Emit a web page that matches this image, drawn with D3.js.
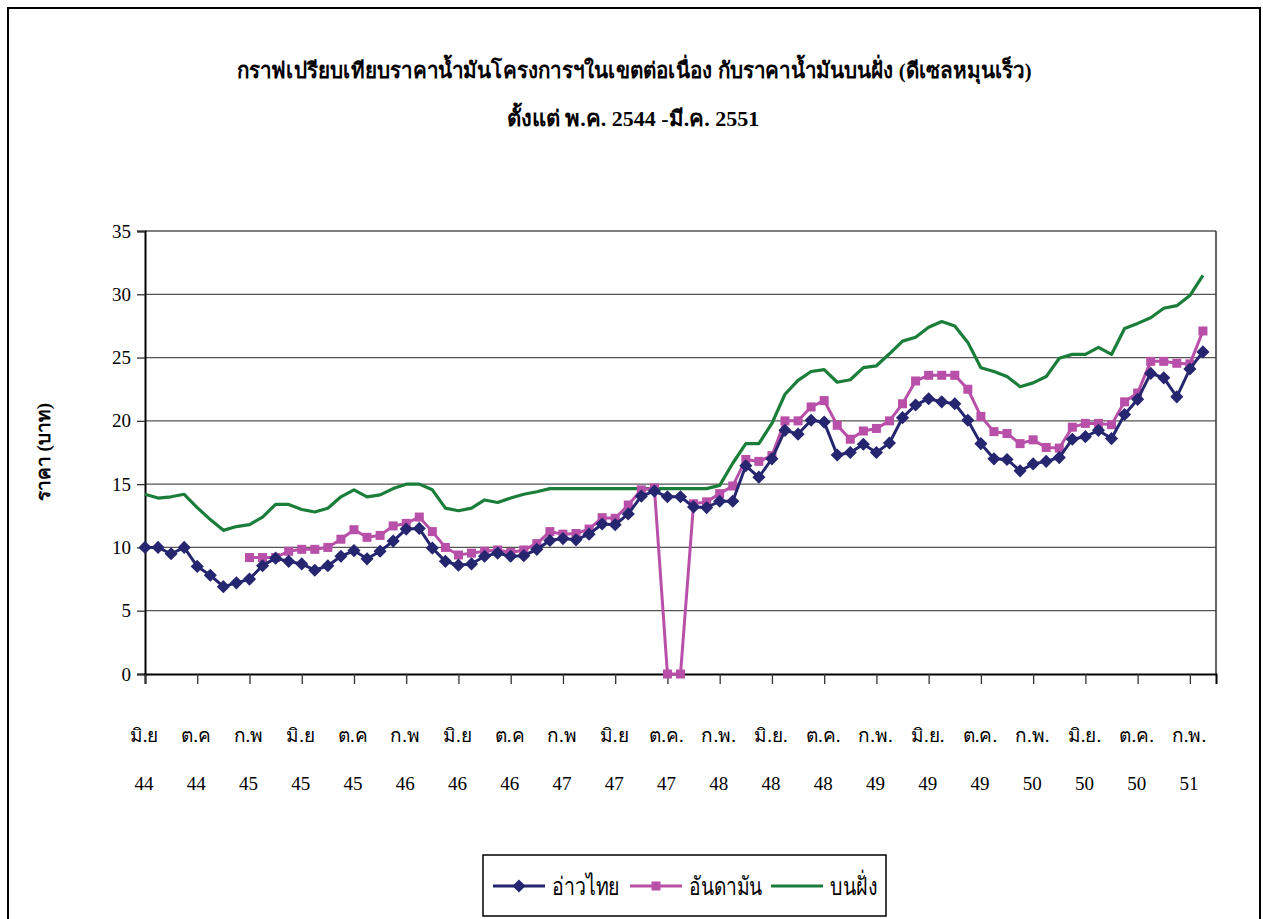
<!DOCTYPE html>
<html>
<head>
<meta charset="utf-8">
<script src="https://cdn.jsdelivr.net/npm/d3@7"></script>
<style>
  body { margin: 0; background: #fff; }
  svg { display: block; }
  text { font-family: "Liberation Serif", "DejaVu Serif", serif; fill: #000; }
</style>
</head>
<body>
<div id="chart"></div>
<script>
// month labels every 4 months (index 0 = มิ.ย 2544)
const monthLabels = ['มิ.ย', 'ต.ค', 'ก.พ', 'มิ.ย', 'ต.ค', 'ก.พ', 'มิ.ย', 'ต.ค', 'ก.พ', 'มิ.ย', 'ต.ค.',
    'ก.พ.', 'มิ.ย.', 'ต.ค.', 'ก.พ.', 'มิ.ย.', 'ต.ค.', 'ก.พ.', 'มิ.ย.', 'ต.ค.', 'ก.พ.'];
const yearLabels = ['44', '44', '45', '45', '45', '46', '46', '46', '47', '47', '47',
    '48', '48', '48', '49', '49', '49', '50', '50', '50', '51'];
const nCategories = 83;
const yTicks = [0, 5, 10, 15, 20, 25, 30, 35];

const gulf = [10.0, 10.0, 9.5, 10.0, 8.5, 7.8, 6.9, 7.2, 7.5, 8.55, 9.15, 8.9, 8.7, 8.2, 8.55, 9.3, 9.75, 9.1, 9.7, 10.5,
    11.45, 11.5, 9.95, 8.9, 8.6, 8.7, 9.3, 9.55, 9.3, 9.35, 9.85, 10.55, 10.7, 10.6, 11.05, 11.85, 11.8, 12.65, 14.05, 14.45,
    14.0, 14.0, 13.2, 13.15, 13.65, 13.65, 16.45, 15.55, 17.0, 19.25, 18.95, 20.05, 19.9, 17.3, 17.5, 18.15, 17.5, 18.25, 20.25, 21.25,
    21.75, 21.5, 21.35, 20.05, 18.2, 17.0, 16.95, 16.05, 16.6, 16.8, 17.1, 18.55, 18.75, 19.25, 18.6, 20.5, 21.7, 23.75, 23.4, 21.9,
    24.1, 25.45];
const andaman = [null, null, null, null, null, null, null, null, 9.2, 9.2, 9.2, 9.7, 9.85, 9.85, 10.0, 10.65, 11.4, 10.8, 10.95, 11.7,
    11.9, 12.4, 11.25, 10.0, 9.4, 9.55, 9.7, 9.8, 9.6, 9.8, 10.3, 11.25, 11.05, 11.1, 11.45, 12.35, 12.3, 13.35, 14.55, 14.7,
    0, 0, 13.45, 13.6, 14.25, 14.85, 16.95, 16.8, 17.25, 20.0, 20.0, 21.1, 21.6, 19.65, 18.55, 19.2, 19.4, 20.0, 21.35, 23.15,
    23.6, 23.6, 23.6, 22.5, 20.35, 19.15, 19.0, 18.2, 18.5, 17.9, 17.85, 19.5, 19.8, 19.8, 19.7, 21.5, 22.2, 24.7, 24.7, 24.55,
    24.5, 27.1];
const onshore = [14.2, 13.9, 14.0, 14.2, 13.15, 12.2, 11.35, 11.65, 11.8, 12.4, 13.4, 13.4, 13.0, 12.8, 13.1, 14.0, 14.55, 14.0, 14.15, 14.65,
    15.0, 15.0, 14.55, 13.1, 12.9, 13.1, 13.75, 13.55, 13.9, 14.2, 14.4, 14.65, 14.65, 14.65, 14.65, 14.65, 14.65, 14.65, 14.65, 14.65,
    14.65, 14.65, 14.65, 14.65, 14.9, 16.65, 18.2, 18.2, 19.8, 22.1, 23.2, 23.9, 24.05, 23.05, 23.25, 24.2, 24.35, 25.3, 26.3, 26.6,
    27.4, 27.85, 27.5, 26.2, 24.2, 23.9, 23.5, 22.7, 23.0, 23.5, 24.95, 25.25, 25.25, 25.8, 25.25, 27.3, 27.7, 28.15, 28.9, 29.1,
    29.9, 31.5];

const width = 1263, height = 919;
const plot = { left: 145, right: 1216, top: 231, bottom: 674 };

const svg = d3.select('#chart').append('svg')
    .attr('width', width)
    .attr('height', height);

svg.append('rect')
    .attr('x', 8).attr('y', 8)
    .attr('width', 1252).attr('height', 930)
    .attr('fill', '#fff')
    .attr('stroke', '#000')
    .attr('stroke-width', 2);

// titles
svg.append('text')
    .attr('x', 634).attr('y', 78)
    .attr('text-anchor', 'middle')
    .attr('textLength', 795)
    .attr('lengthAdjust', 'spacingAndGlyphs')
    .style('font-size', '22px').style('font-weight', 'bold')
    .text('กราฟเปรียบเทียบราคาน้ำมันโครงการฯในเขตต่อเนื่อง กับราคาน้ำมันบนฝั่ง (ดีเซลหมุนเร็ว)');
svg.append('text')
    .attr('x', 633).attr('y', 126)
    .attr('text-anchor', 'middle')
    .style('font-size', '22px').style('font-weight', 'bold')
    .text('ตั้งแต่ พ.ค. 2544 -มี.ค. 2551');

const x = d3.scaleLinear()
    .domain([0, nCategories - 1])
    .range([plot.left, plot.right]);
const y = d3.scaleLinear()
    .domain([0, 35])
    .range([plot.bottom, plot.top]);

// grid
svg.append('g')
    .selectAll('line')
    .data(yTicks.filter(d => d > 0))
    .enter()
    .append('line')
    .attr('x1', plot.left).attr('x2', plot.right)
    .attr('y1', d => y(d)).attr('y2', d => y(d))
    .attr('stroke', '#555')
    .attr('stroke-width', 1.3);

svg.append('line')
    .attr('x1', plot.right).attr('x2', plot.right)
    .attr('y1', plot.top).attr('y2', plot.bottom)
    .attr('stroke', '#333').attr('stroke-width', 1.5);

// y axis
const yAxis = svg.append('g')
    .attr('transform', `translate(${plot.left},0)`)
    .call(d3.axisLeft(y).tickValues(yTicks).tickSize(8).tickPadding(6));
yAxis.select('.domain').attr('stroke', '#000').attr('stroke-width', 2);
yAxis.selectAll('.tick line').attr('stroke', '#333').attr('stroke-width', 1.3);
yAxis.selectAll('text')
    .style('font-size', '19px')
    .style('font-family', '"Liberation Serif", "DejaVu Serif", serif');

svg.append('text')
    .attr('transform', 'translate(50,452) rotate(-90)')
    .attr('text-anchor', 'middle')
    .style('font-size', '19px').style('font-weight', 'bold')
    .text('ราคา (บาท)');

// x axis
const labelIdx = monthLabels.map((d, i) => i * 4);
const xAxis = svg.append('g')
    .attr('transform', `translate(0,${plot.bottom})`)
    .call(d3.axisBottom(x).tickValues(labelIdx).tickSize(10).tickFormat(''));
xAxis.select('.domain').attr('stroke', '#000').attr('stroke-width', 2);
xAxis.selectAll('.tick line').attr('stroke', '#333').attr('stroke-width', 1.3);

svg.append('g')
    .selectAll('text')
    .data(monthLabels)
    .enter()
    .append('text')
    .attr('x', (d, i) => x(labelIdx[i]) - 1)
    .attr('y', 742)
    .attr('text-anchor', 'middle')
    .style('font-size', '19px')
    .text(d => d);

svg.append('g')
    .selectAll('text')
    .data(yearLabels)
    .enter()
    .append('text')
    .attr('x', (d, i) => x(labelIdx[i]) - 1)
    .attr('y', 790)
    .attr('text-anchor', 'middle')
    .style('font-size', '19px')
    .text(d => d);

// lines
const line = d3.line()
    .defined(d => d != null)
    .x((d, i) => x(i))
    .y(d => y(d));

const colors = { gulf: '#252570', andaman: '#b84fa8', onshore: '#1a7d3a' };

svg.append('path')
    .datum(onshore)
    .attr('fill', 'none')
    .attr('stroke', colors.onshore)
    .attr('stroke-width', 3.2)
    .attr('stroke-linejoin', 'round')
    .attr('d', line);

svg.append('path')
    .datum(andaman)
    .attr('fill', 'none')
    .attr('stroke', colors.andaman)
    .attr('stroke-width', 3)
    .attr('d', line);

svg.append('g')
    .selectAll('rect')
    .data(andaman.map((v, i) => ({ v, i })).filter(d => d.v != null))
    .enter()
    .append('rect')
    .attr('x', d => x(d.i) - 4.5)
    .attr('y', d => y(d.v) - 4.5)
    .attr('width', 9).attr('height', 9)
    .attr('fill', colors.andaman);

svg.append('path')
    .datum(gulf)
    .attr('fill', 'none')
    .attr('stroke', colors.gulf)
    .attr('stroke-width', 3)
    .attr('d', line);

const diamond = d3.symbol().type(d3.symbolDiamond2).size(110);
svg.append('g')
    .selectAll('path')
    .data(gulf)
    .enter()
    .append('path')
    .attr('transform', (d, i) => `translate(${x(i)},${y(d)})`)
    .attr('d', diamond)
    .attr('fill', colors.gulf);

// legend
const legend = svg.append('g');
legend.append('rect')
    .attr('x', 483).attr('y', 855)
    .attr('width', 403).attr('height', 61)
    .attr('fill', '#fff')
    .attr('stroke', '#000')
    .attr('stroke-width', 1.5);

const legendItems = [
    { name: 'อ่าวไทย', color: colors.gulf, marker: 'diamond', x: 493, w: 68 },
    { name: 'อันดามัน', color: colors.andaman, marker: 'square', x: 630, w: 73 },
    { name: 'บนฝั่ง', color: colors.onshore, marker: null, x: 771, w: 47 }
];
legendItems.forEach(item => {
    const ly = 886;
    legend.append('line')
        .attr('x1', item.x).attr('x2', item.x + 52)
        .attr('y1', ly).attr('y2', ly)
        .attr('stroke', item.color).attr('stroke-width', 3);
    if (item.marker === 'diamond') {
        legend.append('path')
            .attr('transform', `translate(${item.x + 26},${ly})`)
            .attr('d', diamond)
            .attr('fill', item.color);
    } else if (item.marker === 'square') {
        legend.append('rect')
            .attr('x', item.x + 26 - 4.5).attr('y', ly - 4.5)
            .attr('width', 9).attr('height', 9)
            .attr('fill', item.color);
    }
    legend.append('text')
        .attr('x', item.x + 59).attr('y', ly + 9)
        .attr('textLength', item.w)
        .attr('lengthAdjust', 'spacingAndGlyphs')
        .style('font-size', '25px')
        .text(item.name);
});
</script>
</body>
</html>
